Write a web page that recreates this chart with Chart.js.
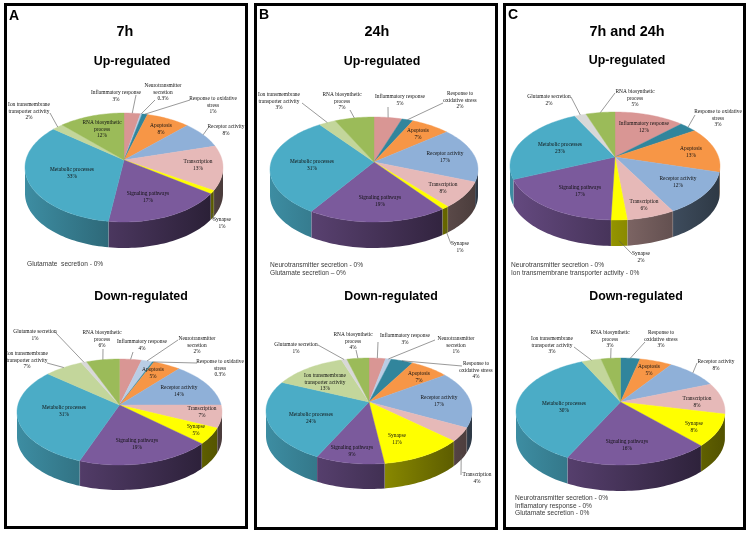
<!DOCTYPE html>
<html lang="en">
<head>
  <meta charset="UTF-8" />
  <title>Gene ontology pies</title>
  <script src="https://cdn.jsdelivr.net/npm/chart.js@4"></script>
  <style>
    html, body { margin: 0; padding: 0; background: #fff; }
    #page { position: relative; width: 748px; height: 533px; overflow: hidden; font-family: "Liberation Sans", Arial, sans-serif; }
    #page canvas { position: absolute; left: 0; top: 0; }
    .panel { position: absolute; border: 3px solid #000; box-sizing: border-box; }
    .txt { position: absolute; white-space: nowrap; transform: translate(-50%, -50%); color: #000; font-weight: bold; will-change: transform; }
    .letter { font-size: 14px; }
    .time { font-size: 14.4px; }
    .dir { font-size: 12.4px; }
    .note { position: absolute; white-space: pre; transform: translateY(-50%); color: #3a3a3a; font-size: 6.6px; will-change: transform; }
  </style>
</head>
<body>
  <div id="page"></div>

  <script>
    // Categories in the order the slices run, clockwise from 12 o'clock
    const categories = [
      'Inflammatory response', 'Neurotransmitter secretion', 'Response to oxidative stress',
      'Apoptosis', 'Receptor activity', 'Transcription', 'Synapse', 'Signaling pathways',
      'Metabolic processes', 'Ion transmembrane transporter activity', 'Glutamate secretion',
      'RNA biosynthetic process'
    ];
    const colors = ['#D99694', '#B9CDE5', '#31859C', '#F79646', '#8FB0D8', '#E6B9B8',
      '#FFFF00', '#7B5A9C', '#4BACC6', '#C3D69B', '#D8D8D8', '#9BBB59'];

    // Percentages
    const up7h = [3, 0.3, 1, 8, 8, 13, 1, 17, 33, 2, 0, 12];
    const down7h = [4, 2, 0.3, 5, 14, 7, 5, 19, 31, 7, 1, 6];
    const up24h = [5, 0, 2, 7, 17, 8, 1, 19, 31, 3, 0, 7];
    const down24h = [3, 1, 4, 7, 17, 4, 11, 9, 24, 13, 1, 4];
    const upBoth = [12, 0, 3, 13, 12, 6, 2, 17, 23, 0, 2, 5];
    const downBoth = [0, 0, 3, 5, 8, 8, 8, 16, 30, 3, 0, 3];

    // Slice labels: category index, text (| = new line), centre x, first line y,
    // then leader start x, y and whether the leader stops on the side wall
    const labelsUp7h = [
      [0, 'Inflammatory response', 116, 93, 136, 95],
      [1, 'Neurotransmitter|secretion', 163, 86, 155, 100],
      [2, 'Response to oxidative|stress', 213, 99, 190, 100],
      [3, 'Apoptosis', 161, 126],
      [4, 'Receptor activity', 226, 127, 208, 128],
      [5, 'Transcription', 198, 162],
      [6, 'Synapse', 222, 220, 213, 220, true],
      [7, 'Signaling pathways', 148, 194],
      [8, 'Metabolic processes', 72, 170],
      [9, 'Ion transmembrane|transporter activity', 29, 105, 50, 113],
      [11, 'RNA biosynthetic|process', 102, 123]
    ];
    const labelsDown7h = [
      [0, 'Inflammatory response', 142, 342, 133, 352],
      [1, 'Neurotransmitter|secretion', 197, 339, 178, 340],
      [2, 'Response to oxidative|stress', 220, 362, 197, 363],
      [3, 'Apoptosis', 153, 370],
      [4, 'Receptor activity', 179, 388],
      [5, 'Transcription', 202, 409],
      [6, 'Synapse', 196, 427],
      [7, 'Signaling pathways', 137, 441],
      [8, 'Metabolic processes', 64, 408],
      [9, 'Ion transmembrane|transporter activity', 27, 354, 47, 363],
      [10, 'Glutamate secretion', 35, 332, 55, 332],
      [11, 'RNA biosynthetic|process', 102, 333, 103, 349]
    ];
    const labelsUp24h = [
      [0, 'Inflammatory response', 400, 97, 388, 107],
      [2, 'Response to|oxidative stress', 460, 94, 443, 103],
      [3, 'Apoptosis', 418, 131],
      [4, 'Receptor activity', 445, 154],
      [5, 'Transcription', 443, 185],
      [6, 'Synapse', 460, 244, 451, 244, true],
      [7, 'Signaling pathways', 380, 198],
      [8, 'Metabolic processes', 312, 162],
      [9, 'Ion transmembrane|transporter activity', 279, 95, 302, 103],
      [11, 'RNA biosynthetic|process', 342, 95, 350, 110]
    ];
    const labelsDown24h = [
      [0, 'Inflammatory response', 405, 336, 378, 342],
      [1, 'Neurotransmitter|secretion', 456, 339, 435, 340],
      [2, 'Response to|oxidative stress', 476, 364, 462, 366],
      [3, 'Apoptosis', 419, 374],
      [4, 'Receptor activity', 439, 398],
      [5, 'Transcription', 477, 475, 461, 475, true],
      [6, 'Synapse', 397, 436],
      [7, 'Signaling pathways', 352, 448],
      [8, 'Metabolic processes', 311, 415],
      [9, 'Ion transmembrane|transporter activity', 325, 376],
      [10, 'Glutamate secretion', 296, 345, 318, 345],
      [11, 'RNA biosynthetic|process', 353, 335, 356, 350]
    ];
    const labelsUpBoth = [
      [11, 'RNA biosynthetic|process', 635, 92, 615, 93],
      [0, 'Inflammatory response', 644, 124],
      [2, 'Response to oxidative|stress', 718, 112, 695, 115],
      [3, 'Apoptosis', 691, 149],
      [4, 'Receptor activity', 678, 179],
      [5, 'Transcription', 644, 202],
      [6, 'Synapse', 641, 254, 632, 254, true],
      [7, 'Signaling pathways', 580, 188],
      [8, 'Metabolic processes', 560, 145],
      [10, 'Glutamate secretion', 549, 97, 571, 97]
    ];
    const labelsDownBoth = [
      [2, 'Response to|oxidative stress', 661, 333, 645, 342],
      [3, 'Apoptosis', 649, 367],
      [4, 'Receptor activity', 716, 362, 697, 363],
      [5, 'Transcription', 697, 399],
      [6, 'Synapse', 694, 424],
      [7, 'Signaling pathways', 627, 442],
      [8, 'Metabolic processes', 564, 404],
      [9, 'Ion transmembrane|transporter activity', 552, 339, 574, 347],
      [11, 'RNA biosynthetic|process', 610, 333, 611, 348]
    ];

    // cx/cy: pie centre, r: half width, up/down: extent above and below the centre, depth: wall height
    const pies = [
      { data: up7h, labels: labelsUp7h, cx: 124, cy: 160, r: 99, up: 47, down: 62, depth: 26 },
      { data: down7h, labels: labelsDown7h, cx: 119.5, cy: 405, r: 102.5, up: 46, down: 60, depth: 25 },
      { data: up24h, labels: labelsUp24h, cx: 374, cy: 162, r: 104, up: 45, down: 60, depth: 26 },
      { data: down24h, labels: labelsDown24h, cx: 369, cy: 402, r: 103, up: 44, down: 62, depth: 25 },
      { data: upBoth, labels: labelsUpBoth, cx: 615, cy: 157, r: 105, up: 45, down: 63, depth: 26 },
      { data: downBoth, labels: labelsDownBoth, cx: 620.5, cy: 402, r: 104.5, up: 44, down: 63, depth: 26 }
    ];

    const panels = [[4, 3, 244, 526], [254, 3, 244, 527], [503, 3, 243, 527]];
    const titles = [
      ['letter', 'A', 14, 15], ['time', '7h', 125, 31], ['dir', 'Up-regulated', 132, 61], ['dir', 'Down-regulated', 141, 296],
      ['letter', 'B', 264, 14], ['time', '24h', 377, 31], ['dir', 'Up-regulated', 382, 61], ['dir', 'Down-regulated', 391, 296],
      ['letter', 'C', 513, 14], ['time', '7h and 24h', 627, 31], ['dir', 'Up-regulated', 627, 60], ['dir', 'Down-regulated', 636, 296]
    ];
    const notes = [
      ['Glutamate  secretion - 0%', 27, 263],
      ['Neurotransmitter secretion - 0%', 270, 264], ['Glutamate secretion \u2013 0%', 270, 272],
      ['Neurotransmitter secretion - 0%', 511, 264], ['Ion transmembrane transporter activity - 0%', 511, 272],
      ['Neurotransmitter secretion - 0%', 515, 497], ['Inflamatory response - 0%', 515, 505], ['Glutamate secretion - 0%', 515, 512]
    ];

    const page = document.getElementById('page');

    panels.forEach(function (p) {
      const d = document.createElement('div');
      d.className = 'panel';
      d.style.cssText = 'left:' + p[0] + 'px;top:' + p[1] + 'px;width:' + p[2] + 'px;height:' + p[3] + 'px';
      page.appendChild(d);
    });
    titles.forEach(function (t) {
      const d = document.createElement('div');
      d.className = 'txt ' + t[0];
      d.textContent = t[1];
      d.style.left = t[2] + 'px';
      d.style.top = t[3] + 'px';
      page.appendChild(d);
    });
    notes.forEach(function (n) {
      const d = document.createElement('div');
      d.className = 'note';
      d.textContent = n[0];
      d.style.left = n[1] + 'px';
      d.style.top = n[2] + 'px';
      page.appendChild(d);
    });

    function shade(hex, f) {
      const n = parseInt(hex.slice(1), 16);
      return 'rgb(' + Math.round((n >> 16) * f) + ',' + Math.round(((n >> 8) & 255) * f) + ',' + Math.round((n & 255) * f) + ')';
    }

    // Chart.js gives the slice angles; this draws them tilted in perspective with a side wall
    function pie3d(pie) {
      const p = (pie.down - pie.up) / (pie.down + pie.up);
      const ry = 2 * pie.down * pie.up / (pie.down + pie.up);

      function project(arc, a) {
        const w = 1 - p * Math.sin(a);
        return {
          x: arc.x + arc.outerRadius * Math.sqrt(1 - p * p) * Math.cos(a) / w,
          y: arc.y + ry * Math.sin(a) / w
        };
      }

      function trace(ctx, arc, from, to, dy, backwards) {
        const steps = Math.max(2, Math.ceil((to - from) / 0.03));
        for (let i = 0; i <= steps; i++) {
          const t = backwards ? 1 - i / steps : i / steps;
          const q = project(arc, from + (to - from) * t);
          ctx.lineTo(q.x, q.y + dy);
        }
      }

      return {
        id: 'pie3d',
        beforeDatasetDraw(chart) {
          const ctx = chart.ctx;
          const arcs = chart.getDatasetMeta(0).data;
          const frontFrom = Math.asin(p);
          const frontTo = Math.PI - frontFrom;
          ctx.save();

          // side wall, lighter on the left and darker on the right
          arcs.forEach(function (arc, i) {
            const from = Math.max(arc.startAngle, frontFrom);
            const to = Math.min(arc.endAngle, frontTo);
            if (from >= to) return;
            const a = project(arc, to);
            const b = project(arc, from);
            const f = function (x) { return 0.82 - 0.5 * (x - arc.x + arc.outerRadius) / (2 * arc.outerRadius); };
            const g = ctx.createLinearGradient(a.x, 0, b.x + 0.01, 0);
            g.addColorStop(0, shade(colors[i], f(a.x)));
            g.addColorStop(1, shade(colors[i], f(b.x)));
            ctx.beginPath();
            trace(ctx, arc, from, to, 0, false);
            trace(ctx, arc, from, to, pie.depth, true);
            ctx.closePath();
            ctx.fillStyle = g;
            ctx.fill();
            // pale seam where two wall pieces meet
            if (arc.endAngle < frontTo) {
              ctx.beginPath();
              ctx.moveTo(a.x, a.y);
              ctx.lineTo(a.x, a.y + pie.depth);
              ctx.strokeStyle = 'rgba(255,255,255,0.35)';
              ctx.lineWidth = 0.6;
              ctx.stroke();
            }
          });

          // top face
          arcs.forEach(function (arc, i) {
            if (arc.endAngle - arc.startAngle <= 0) return;
            ctx.beginPath();
            ctx.moveTo(arc.x, arc.y);
            trace(ctx, arc, arc.startAngle, arc.endAngle, 0, false);
            ctx.closePath();
            ctx.fillStyle = colors[i];
            ctx.strokeStyle = colors[i];
            ctx.lineWidth = 0.4;
            ctx.fill();
            ctx.stroke();
          });

          // labels and leaders
          ctx.font = '5.4px "Liberation Serif", serif';
          ctx.textAlign = 'center';
          ctx.textBaseline = 'middle';
          pie.labels.forEach(function (l) {
            const arc = arcs[l[0]];
            if (l[4] !== undefined) {
              const q = project(arc, (arc.startAngle + arc.endAngle) / 2);
              ctx.beginPath();
              ctx.moveTo(l[4], l[5]);
              ctx.lineTo(q.x, q.y + (l[6] ? pie.depth * 0.8 : 0));
              ctx.strokeStyle = '#555';
              ctx.lineWidth = 0.6;
              ctx.stroke();
            }
            ctx.fillStyle = '#111';
            const lines = l[1].split('|').concat(pie.data[l[0]] + '%');
            lines.forEach(function (s, n) {
              ctx.fillText(s, l[2], l[3] + n * 6.5);
            });
          });

          ctx.restore();
          return false;
        }
      };
    }

    pies.forEach(function (pie) {
      const c = document.createElement('canvas');
      c.width = 748;
      c.height = 533;
      c.style.width = '748px';
      c.style.height = '533px';
      page.appendChild(c);
      new Chart(c.getContext('2d'), {
        type: 'pie',
        data: {
          labels: categories,
          datasets: [{ data: pie.data, backgroundColor: colors, borderWidth: 0 }]
        },
        options: {
          responsive: false,
          animation: false,
          layout: {
            padding: {
              left: pie.cx - pie.r,
              right: 748 - pie.cx - pie.r,
              top: pie.cy - pie.r,
              bottom: 533 - pie.cy - pie.r
            }
          },
          plugins: { legend: { display: false }, tooltip: { enabled: false } }
        },
        plugins: [pie3d(pie)]
      });
    });
  </script>
</body>
</html>
